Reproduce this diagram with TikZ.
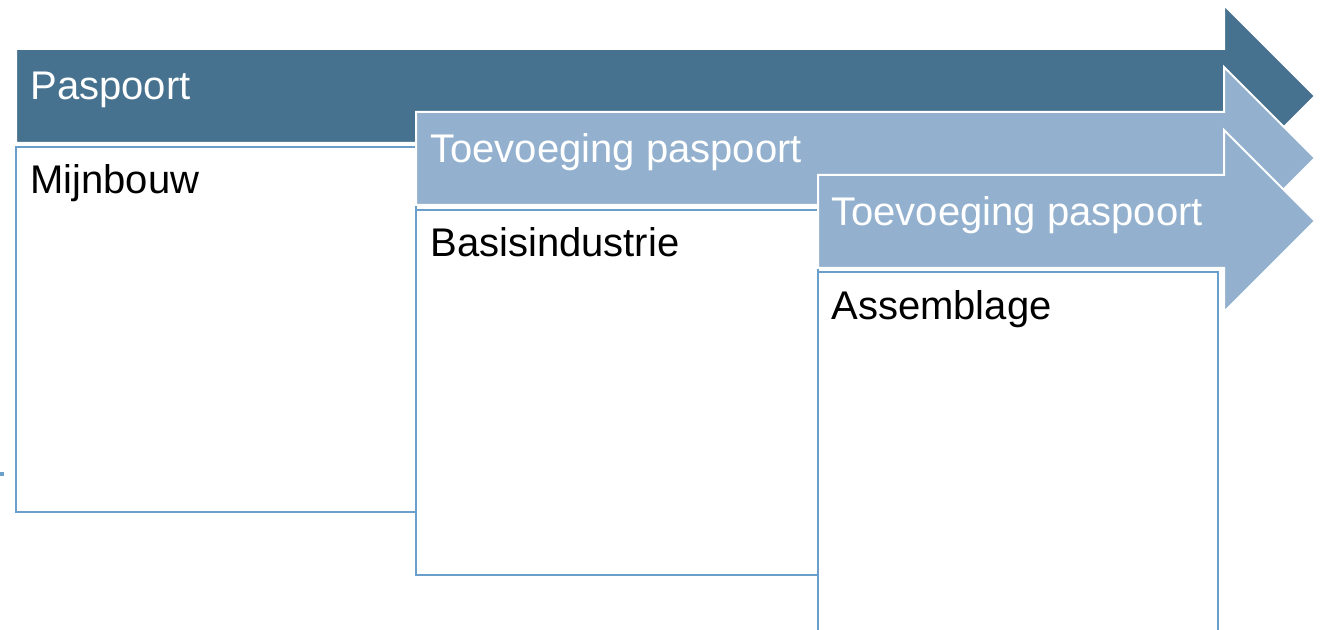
\documentclass[tikz,border=0pt]{standalone}
\usepackage{fontspec}
\setmainfont{Liberation Sans}
\definecolor{paspoortblue}{RGB}{70,114,143}
\definecolor{toevoegblue}{RGB}{147,177,206}
\definecolor{randblue}{RGB}{106,159,203}
\begin{document}
\begin{tikzpicture}[x=0.5pt,y=-0.5pt,
    pijl/.style={draw=white,line width=1pt,line join=miter},
    vak/.style={draw=randblue,line width=1.4pt,fill=white},
    kop/.style={text=white,font=\fontsize{20}{24}\selectfont,anchor=base west,inner sep=0pt},
    fase/.style={text=black,font=\fontsize{20}{24}\selectfont,anchor=base west,inner sep=0pt}]
    \useasboundingbox (0,0) rectangle (1326,630);
    \clip (0,0) rectangle (1326,630);
    \draw[randblue,line width=1.6pt] (0,474) -- (4,474);
    \fill[pijl,fill=paspoortblue] (16,49) -- (1224,49) -- (1224,5) -- (1315,96)
        -- (1224,187) -- (1224,143) -- (16,143) -- cycle;
    \node[kop] (paspoort) at (30,100) {Paspoort};
    \draw[vak] (16,147) rectangle (416,512);
    \node[fase] (mijnbouw) at (30,194) {Mijnbouw};
    \filldraw[pijl,fill=toevoegblue] (416,112) -- (1224,112) -- (1224,67) -- (1315,158)
        -- (1224,249) -- (1224,205) -- (416,205) -- cycle;
    \node[kop] (toevoeging1) at (430,163) {Toevoeging paspoort};
    \draw[vak] (416,210) rectangle (818,575);
    \node[fase] (basisindustrie) at (430,257) {Basisindustrie};
    \filldraw[pijl,fill=toevoegblue] (818,175) -- (1224,175) -- (1224,130) -- (1315,221)
        -- (1224,312) -- (1224,268) -- (818,268) -- cycle;
    \node[kop] (toevoeging2) at (831,226) {Toevoeging paspoort};
    \draw[vak] (818,272) rectangle (1218,660);
    \node[fase] (assemblage) at (831,320) {Assemblage};
\end{tikzpicture}
\end{document}
